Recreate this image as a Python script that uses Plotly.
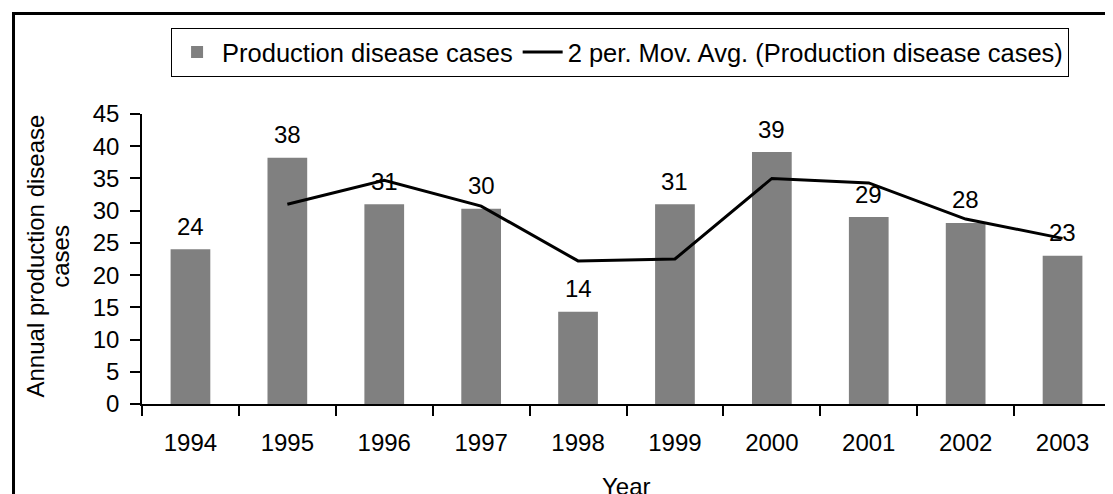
import plotly.graph_objects as go

years = ["1994", "1995", "1996", "1997", "1998", "1999", "2000", "2001", "2002", "2003"]
cases = [24.0, 38.2, 31.0, 30.3, 14.3, 31.0, 39.1, 29.0, 28.1, 23.0]
ma_years = ["1995", "1996", "1997", "1998", "1999", "2000", "2001", "2002", "2003"]
ma_values = [31.0, 34.7, 30.7, 22.2, 22.5, 35.0, 34.3, 28.7, 25.7]
y_ticks = [0, 5, 10, 15, 20, 25, 30, 35, 40, 45]

FONT = "Arial, 'Liberation Sans', sans-serif"
FS = 24

fig = go.Figure()
fig.add_trace(go.Bar(
    x=years, y=cases, name="Production disease cases",
    marker=dict(color="#808080", line=dict(width=0)),
))
fig.add_trace(go.Scatter(
    x=ma_years, y=ma_values, mode="lines",
    name="2 per. Mov. Avg. (Production disease cases)",
    line=dict(color="black", width=3),
))

annotations = []
for i, v in enumerate(cases):
    annotations.append(dict(
        x=i, y=v, xref="x", yref="y", text=str(round(v)),
        showarrow=False, yanchor="middle", yshift=23,
        font=dict(size=FS, color="black", family=FONT),
    ))
annotations.append(dict(
    x=-0.110, y=0.51, xref="paper", yref="paper",
    text="Annual production disease", textangle=-90,
    showarrow=False, xanchor="center", yanchor="middle",
    font=dict(size=FS, color="black", family=FONT),
))
annotations.append(dict(
    x=-0.085, y=0.51, xref="paper", yref="paper",
    text="cases", textangle=-90,
    showarrow=False, xanchor="center", yanchor="middle",
    font=dict(size=FS, color="black", family=FONT),
))
annotations.append(dict(
    x=0.5, y=-0.286, xref="paper", yref="paper", text="Year",
    showarrow=False, xanchor="center", yanchor="middle",
    font=dict(size=FS, color="black", family=FONT),
))

fig.update_layout(
    width=1113, height=494,
    margin=dict(l=134, r=10, t=106, b=98),
    plot_bgcolor="white", paper_bgcolor="white",
    font=dict(family=FONT, size=FS, color="black"),
    bargap=0.59,
    showlegend=True,
    legend=dict(
        orientation="h", x=0.03, y=1.297, xanchor="left", yanchor="top",
        bordercolor="black", borderwidth=1, bgcolor="white",
        font=dict(size=25.5, color="black", family=FONT),
        itemwidth=40,
    ),
    annotations=annotations,
    shapes=[dict(
        type="rect", xref="paper", yref="paper",
        x0=-0.1326, x1=1.05, y0=-0.40, y1=1.3466,
        line=dict(color="black", width=3), fillcolor="rgba(0,0,0,0)",
        layer="below",
    )],
)
fig.update_xaxes(
    type="category", range=[-0.5, 9.5],
    showline=True, linecolor="black", linewidth=1.5,
    ticks="outside", tickson="boundaries", ticklen=10, tickcolor="black", tickwidth=1.5,
    ticklabelstandoff=16,
    showgrid=False, tickfont=dict(size=FS, color="black", family=FONT),
)
fig.update_yaxes(
    range=[0, 45], tickvals=y_ticks,
    showline=True, linecolor="black", linewidth=1.5,
    ticks="outside", ticklen=10, tickcolor="black", tickwidth=1.5,
    ticklabelstandoff=6,
    showgrid=False, zeroline=False,
    tickfont=dict(size=FS, color="black", family=FONT),
)

fig.write_html("out.html")
